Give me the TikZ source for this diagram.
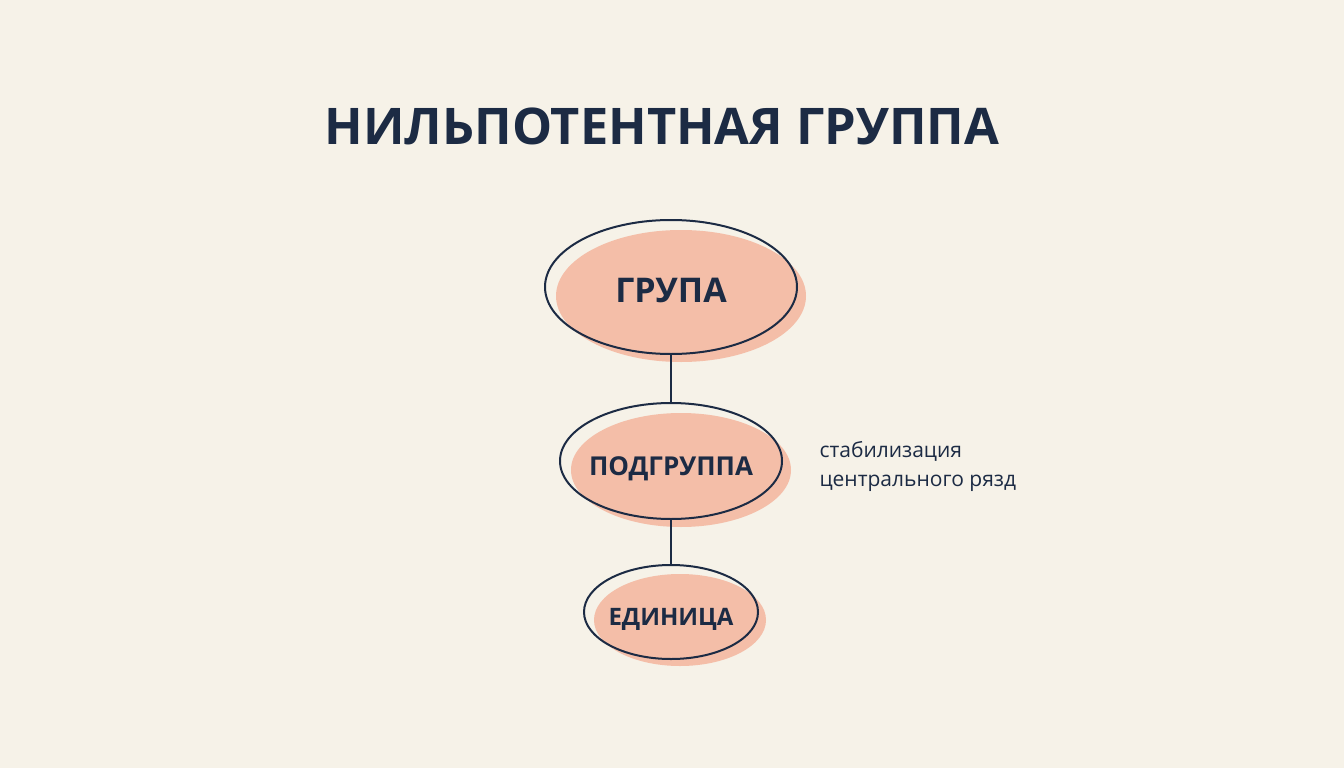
\documentclass[tikz,border=0pt]{standalone}
\usepackage{fontspec}
\setmainfont{Open Sans}
\usetikzlibrary{shapes.geometric}

\definecolor{paper}{HTML}{F6F2E8}
\definecolor{navy}{HTML}{1C2B44}
\definecolor{salmon}{HTML}{F4BEA8}

\begin{document}
\begin{tikzpicture}[x=1pt,y=-1pt,
  blob/.style={ellipse,draw=navy,line width=2pt,inner sep=-20pt,text depth=0pt,
    text=navy,font=\bfseries\fontsize{24}{28}\selectfont},
  link/.style={draw=navy,line width=1.6pt}]

\fill[paper] (0,0) rectangle (1344,768);
\useasboundingbox (0,0) rectangle (1344,768);

\node[text=navy,font=\bfseries\fontsize{50.5}{60}\selectfont] (title) at (662,126) {НИЛЬПОТЕНТНАЯ ГРУППА};

\coordinate (c1) at (671,287);
\coordinate (c2) at (671,461);
\coordinate (c3) at (671,612);

% salmon fills, shifted down-right
\fill[salmon] ([shift={(10,9)}]c1) ellipse [x radius=125, y radius=66];
\fill[salmon] ([shift={(10,9)}]c2) ellipse [x radius=110, y radius=57];
\fill[salmon] ([shift={(9,8)}]c3) ellipse [x radius=86, y radius=46];

\node[blob,minimum width=252pt,minimum height=134pt,text height=30pt,font=\bfseries\fontsize{34}{40}\selectfont] (grp) at (c1) {ГРУПА};
\node[blob,minimum width=222pt,minimum height=116pt,text height=28.5pt,font=\bfseries\fontsize{26}{30}\selectfont] (sub) at (c2) {ПОДГРУППА};
\node[blob,minimum width=174pt,minimum height=94pt,text height=26pt] (unit) at (c3) {ЕДИНИЦА};

\draw[link] (grp.south) -- (sub.north);
\draw[link] (sub.south) -- (unit.north);

\node[anchor=west,align=left,text=navy,font=\fontsize{21}{29}\selectfont] (note) at (816,466) {стабилизация\\центрального рязд};

\end{tikzpicture}
\end{document}
